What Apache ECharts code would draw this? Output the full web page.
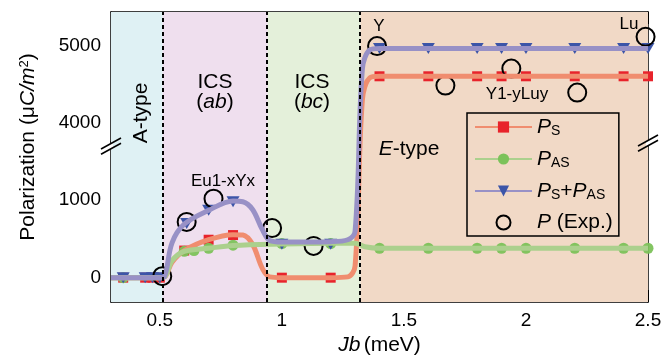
<!DOCTYPE html>
<html><head><meta charset="utf-8">
<script src="https://cdn.jsdelivr.net/npm/echarts@6/dist/echarts.min.js"></script>
<style>html,body{margin:0;padding:0;background:#fff}#c{width:665px;height:357px}</style>
</head><body><div id="c"></div>
<script>
const FONT = "'Liberation Sans', Arial, Helvetica, sans-serif";

// ---- axes ----
const X_RANGE = [0.3, 2.5];
const X_TICKS = [0.5, 1, 1.5, 2, 2.5];
const Y_RANGE = [-314, 5430];
const Y_BREAK = [1750, 3750];
const Y_TICKS = [0, 500, 1000, 1500, 4000, 5000];
const Y_LABELS = [0, 1000, 4000, 5000];

// ---- phase regions ----
const PHASE_BOUNDS = [0.3, 0.512, 0.942, 1.322, 2.5];
const PHASE_COLORS = ['#dff1f4', '#efdfee', '#e4f0da', '#f1d9c6'];

// ---- theory curves ----
const PS_CX  = [0.3, 0.5, 0.52, 0.55, 0.6, 0.7, 0.8, 0.84, 0.88, 0.92, 0.95, 1.0, 1.2, 1.27, 1.3, 1.33, 1.36, 1.4, 2.5];
const PS_CY  = [0, 0, 10, 200, 350, 490, 555, 550, 430, 120, 10, 0, 0, 10, 150, 4300, 4580, 4600, 4600];
const PAS_CX = [0.3, 0.5, 0.52, 0.55, 0.6, 0.7, 0.8, 1.0, 1.2, 1.3, 1.34, 1.4, 2.5];
const PAS_CY = [0, 0, 10, 220, 340, 380, 415, 435, 445, 445, 400, 380, 380];
const SUM_CX = [0.3, 0.5, 0.52, 0.55, 0.6, 0.7, 0.8, 0.84, 0.88, 0.92, 0.95, 1.0, 1.2, 1.27, 1.3, 1.33, 1.36, 1.4, 2.5];
const SUM_CY = [0, 0, 20, 450, 690, 870, 990, 980, 880, 620, 480, 460, 465, 490, 600, 4700, 4940, 4960, 4960];

// ---- calculated markers ----
const PS_X  = [0.35, 0.44, 0.47, 0.5, 0.6, 0.7, 0.8, 1.0, 1.2, 1.4, 1.6, 1.8, 1.9, 2.0, 2.2, 2.4, 2.5];
const PS_Y  = [0, 0, 0, 0, 350, 490, 550, 0, 0, 4600, 4600, 4600, 4600, 4600, 4600, 4600, 4600];
const PAS_X = [0.35, 0.6, 0.64, 0.7, 0.8, 1.0, 1.2, 1.4, 1.6, 1.8, 1.9, 2.0, 2.2, 2.4, 2.5];
const PAS_Y = [0, 340, 350, 380, 420, 440, 440, 380, 380, 380, 380, 380, 380, 380, 380];
const SUM_X = [0.35, 0.44, 0.47, 0.5, 0.61, 0.7, 0.8, 1.0, 1.2, 1.4, 1.6, 1.8, 1.9, 2.0, 2.2, 2.4, 2.5];
const SUM_Y = [0, 0, 0, 0, 700, 870, 980, 430, 430, 4960, 4960, 4960, 4960, 4960, 4960, 4960, 4960];

// ---- experiment ----
const EXP_X = [0.51, 0.61, 0.72, 0.96, 1.13, 1.39, 1.67, 1.94, 2.21, 2.49];
const EXP_Y = [20, 720, 1020, 640, 410, 4990, 4480, 4700, 4390, 5110];

const zip = (a, b) => a.map((v, i) => [v, b[i]]);

const C_PS_LINE = '#f08d6f', C_PS_MARK = '#e8232b';
const C_PAS_LINE = '#abd08d', C_PAS_MARK = '#7cc25a';
const C_SUM_LINE = '#9891c6', C_SUM_MARK = '#3c55a8';

const chart = echarts.init(document.getElementById('c'), null, {renderer: 'canvas'});

const areaData = [];
for (let i = 0; i < PHASE_COLORS.length; i++) {
  areaData.push([{xAxis: PHASE_BOUNDS[i], itemStyle: {color: PHASE_COLORS[i]}}, {xAxis: PHASE_BOUNDS[i + 1]}]);
}
const lineData = PHASE_BOUNDS.slice(1, 4).map(v => ({xAxis: v}));

const yAxisBase = {
  type: 'value', min: Y_RANGE[0], max: Y_RANGE[1],
  breaks: [{start: Y_BREAK[0], end: Y_BREAK[1], gap: 0}],
  breakArea: {show: false, itemStyle: {opacity: 0, borderWidth: 0}},
  axisLine: {show: true, onZero: false, lineStyle: {color: '#000', width: 1.5}},
  axisTick: {show: true, inside: true, length: 18, customValues: Y_TICKS, lineStyle: {color: '#000', width: 2}},
  splitLine: {show: false}
};
const xAxisBase = {
  type: 'value', min: X_RANGE[0], max: X_RANGE[1],
  axisLine: {show: true, onZero: false, lineStyle: {color: '#000', width: 1.5}},
  axisTick: {show: true, inside: true, length: 12, customValues: X_TICKS, lineStyle: {color: '#000', width: 2}},
  splitLine: {show: false}
};

const legendNames = {
  Ps: '{pi|P}{sub|S}',
  Pas: '{pi|P}{sub|AS}',
  Psum: '{pi|P}{sub|S}{n|+}{pi|P}{sub|AS}',
  Pexp: '{pi|P}{n| (Exp.)}'
};

const option = {
  animation: false,
  backgroundColor: '#fff',
  grid: {left: 111, right: 17, top: 12, bottom: 55, containLabel: false, outerBoundsMode: 'none'},
  xAxis: [
    Object.assign({}, xAxisBase, {
      position: 'bottom',
      axisLabel: {customValues: X_TICKS, fontSize: 19, color: '#000', fontFamily: FONT, margin: 9,
        formatter: v => String(v)},
      name: '{i|Jb} {n|(meV)}', nameLocation: 'middle', nameGap: 33,
      nameTextStyle: {rich: {
        i: {fontStyle: 'italic', fontSize: 21, fontFamily: FONT, color: '#000'},
        n: {fontSize: 21, fontFamily: FONT, color: '#000'}
      }}
    }),
    Object.assign({}, xAxisBase, {position: 'top', axisLabel: {show: false}})
  ],
  yAxis: [
    Object.assign({}, yAxisBase, {
      position: 'left',
      axisLabel: {customValues: Y_LABELS, fontSize: 19, color: '#000', fontFamily: FONT, margin: 10,
        formatter: v => String(v)}
    }),
    Object.assign({}, yAxisBase, {position: 'right', axisLabel: {show: false}})
  ],
  legend: {
    left: 467, top: 113, orient: 'vertical',
    borderColor: '#000', borderWidth: 1.5, padding: [3, 6, 3, 7],
    itemGap: 10, itemWidth: 57, itemHeight: 14,
    selectedMode: false,
    data: ['Ps', 'Pas', 'Psum', 'Pexp'],
    formatter: n => legendNames[n],
    textStyle: {
      fontFamily: FONT, color: '#000',
      rich: {
        pi: {fontStyle: 'italic', fontSize: 21, fontFamily: FONT, color: '#000', lineHeight: 22},
        sub: {fontSize: 14, fontFamily: FONT, color: '#000', verticalAlign: 'bottom', lineHeight: 22, padding: [8, 0, 0, 0]},
        n: {fontSize: 21, fontFamily: FONT, color: '#000', lineHeight: 22}
      }
    }
  },
  series: [
    {
      name: 'Ps', type: 'line', data: zip(PS_CX, PS_CY),
      smooth: 0.35, showSymbol: false, symbol: 'rect', symbolSize: 10,
      lineStyle: {color: C_PS_LINE, width: 5}, itemStyle: {color: C_PS_MARK},
      markArea: {silent: true, data: areaData},
      markLine: {silent: true, symbol: 'none', label: {show: false},
        lineStyle: {color: '#000', width: 2, type: [4, 3]}, data: lineData}
    },
    {name: 'Ps', type: 'scatter', data: zip(PS_X, PS_Y), symbol: 'rect', symbolSize: 10,
      itemStyle: {color: C_PS_MARK, opacity: 1}},
    {name: 'Pas', type: 'line', data: zip(PAS_CX, PAS_CY),
      smooth: 0.35, showSymbol: false, symbol: 'circle', symbolSize: 11,
      lineStyle: {color: C_PAS_LINE, width: 5}, itemStyle: {color: C_PAS_MARK}},
    {name: 'Pas', type: 'scatter', data: zip(PAS_X, PAS_Y), symbol: 'circle', symbolSize: 11,
      itemStyle: {color: C_PAS_MARK, opacity: 0.95}},
    {name: 'Psum', type: 'line', data: zip(SUM_CX, SUM_CY),
      smooth: 0.35, showSymbol: false, symbol: 'triangle', symbolRotate: 180, symbolSize: [13, 11],
      lineStyle: {color: C_SUM_LINE, width: 5}, itemStyle: {color: C_SUM_MARK}},
    {name: 'Psum', type: 'scatter', data: zip(SUM_X, SUM_Y), symbol: 'triangle', symbolRotate: 180,
      symbolSize: [13, 11], itemStyle: {color: C_SUM_MARK, opacity: 1}},
    {name: 'Pexp', type: 'scatter', data: zip(EXP_X, EXP_Y), symbol: 'circle', symbolSize: 18,
      itemStyle: {color: 'rgba(0,0,0,0)', borderColor: '#000', borderWidth: 2, opacity: 1}}
  ]
};
chart.setOption(option);

// ---- annotations ----
const txt = (x, y, rich, text, size, rot) => ({
  type: 'text', x: x, y: y, rotation: rot || 0, z: 100, silent: true,
  style: {text: text, fontSize: size, fontFamily: FONT, fill: '#000', align: 'center', verticalAlign: 'middle', rich: rich}
});
const R = (s) => ({
  n: {fontSize: s, fontFamily: FONT, fill: '#000', color: '#000'},
  i: {fontSize: s, fontFamily: FONT, fontStyle: 'italic', fill: '#000', color: '#000'},
  sup: {fontSize: Math.round(s * 0.62), fontFamily: FONT, color: '#000', verticalAlign: 'top', padding: [0, 0, 8, 0]}
});

function breakMark(cx, cy) {
  const hx = 10, hy = 5.5, d = 2.6;
  const yOn = (x, off) => cy + off - (x - cx) * hy / hx;
  return [
    {type: 'polygon', z: 99, silent: true, shape: {points: [
      [cx - 2, yOn(cx - 2, -d)], [cx + 2, yOn(cx + 2, -d)], [cx + 2, yOn(cx + 2, d)], [cx - 2, yOn(cx - 2, d)]]},
      style: {fill: '#fff'}},
    {type: 'line', z: 100, silent: true, shape: {x1: cx - hx, y1: cy - d + hy, x2: cx + hx, y2: cy - d - hy},
      style: {stroke: '#000', lineWidth: 1.5}},
    {type: 'line', z: 100, silent: true, shape: {x1: cx - hx, y1: cy + d + hy, x2: cx + hx, y2: cy + d - hy},
      style: {stroke: '#000', lineWidth: 1.5}}
  ];
}

const pL = chart.convertToPixel({xAxisIndex: 0, yAxisIndex: 0}, [X_RANGE[0], Y_BREAK[0]]);
const pR = chart.convertToPixel({xAxisIndex: 0, yAxisIndex: 0}, [X_RANGE[1], Y_BREAK[0]]);

const graphics = [
  txt(28, 147, R(21), '{n|Polarization (μ}{i|C/m}{sup|2}{n|)}', 21, Math.PI / 2),
  txt(141, 113, R(21), '{n|A-type}', 21, Math.PI / 2),
  txt(215, 82, R(21), '{n|ICS}', 21),
  txt(215, 102, R(21), '{n|(}{i|ab}{n|)}', 21),
  txt(312, 82, R(21), '{n|ICS}', 21),
  txt(312, 102, R(21), '{n|(}{i|bc}{n|)}', 21),
  txt(409, 149, R(21), '{i|E}{n|-type}', 21),
  txt(223, 181, R(17), '{n|Eu1-xYx}', 17),
  txt(379, 26, R(17), '{n|Y}', 17),
  txt(629, 24, R(17), '{n|Lu}', 17),
  txt(517, 94, R(17), '{n|Y1-yLuy}', 17)
].concat(breakMark(pL[0], pL[1] + 4), breakMark(pR[0], pR[1] + 1));

chart.setOption({graphic: graphics});
</script>
</body></html>
